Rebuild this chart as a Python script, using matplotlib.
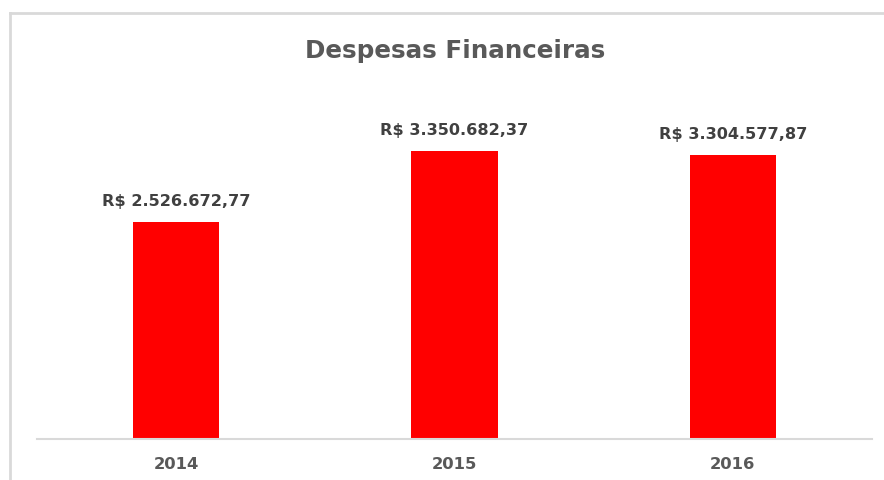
import matplotlib
matplotlib.use("Agg")
import matplotlib.pyplot as plt
from matplotlib.lines import Line2D

####dados#####
anos = ['2014', '2015', '2016']
despesas = [2526672.77, 3350682.37, 3304577.87]


def formata_real(v):
    s = '{:,.2f}'.format(v)
    s = s.replace(',', 'X').replace('.', ',').replace('X', '.')
    return 'R$ ' + s


plt.rcParams['font.family'] = ['DejaVu Sans']

fig = plt.figure(figsize=(8.84, 4.8), dpi=100)
ax = fig.add_axes([0.0419, 0.0854, 0.9445, 0.7166])

x = range(len(anos))
ax.bar(x, despesas, width=0.31, color='#ff0000')
ax.set_xlim(-0.5, 2.5)
ax.set_ylim(0, 4000000)

for i, v in zip(x, despesas):
    ax.annotate(formata_real(v), (i, v), xytext=(0, 11.5), textcoords='offset points',
                ha='center', va='baseline', fontsize=11.6, fontweight='bold', color='#404040')

ax.set_xticks(list(x))
ax.set_xticklabels(anos, fontsize=11.8, fontweight='bold', color='#595959')
ax.tick_params(axis='x', length=0, pad=13)
ax.set_yticks([])
for s in ['top', 'right', 'left']:
    ax.spines[s].set_visible(False)
ax.spines['bottom'].set_color('#d9d9d9')
ax.spines['bottom'].set_linewidth(1.5)

fig.text(0.515, 0.894, 'Despesas Financeiras', ha='center', va='center',
         fontsize=17.7, fontweight='bold', color='#595959')

# borda do grafico
fig.add_artist(Line2D([10 / 884, 10 / 884], [0, 1 - 13 / 480], color='#d9d9d9', lw=2))
fig.add_artist(Line2D([10 / 884, 1], [1 - 13 / 480, 1 - 13 / 480], color='#d9d9d9', lw=2))

plt.savefig('out.png', dpi=100)
